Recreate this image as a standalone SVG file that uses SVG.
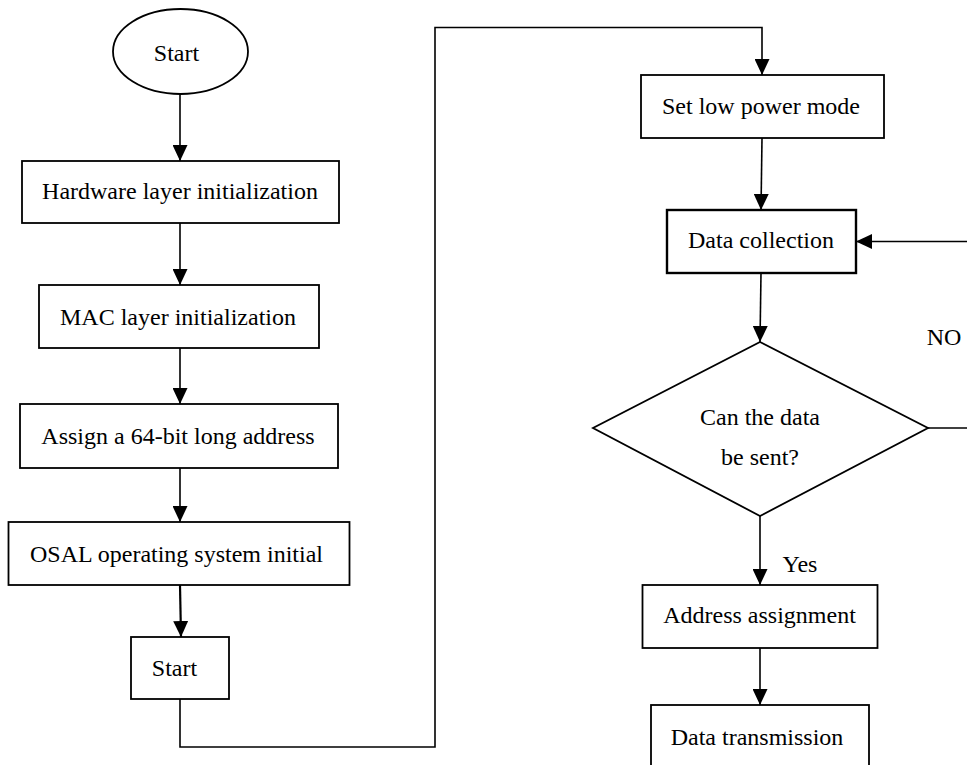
<svg xmlns="http://www.w3.org/2000/svg" width="967" height="765" viewBox="0 0 967 765">
<style>
.box{fill:#fff;stroke:#000;stroke-width:1.8}
.t{font-family:"Liberation Serif","Times New Roman",serif;font-size:24px;fill:#000;text-anchor:middle}
.c{fill:none;stroke:#000;stroke-width:1.6}
.a{marker-end:url(#ah)}
</style>
<defs>
<marker id="ah" markerUnits="userSpaceOnUse" markerWidth="16" markerHeight="15" refX="16" refY="7.5" orient="auto" viewBox="0 0 16 15">
<path d="M0,0 L16,7.5 L0,15 Z" fill="#000"/>
</marker>
</defs>
<rect width="967" height="765" fill="#fff"/>
<g id="connectors">
<line class="c a" x1="180" y1="94" x2="180" y2="161"/>
<line class="c a" x1="180" y1="223" x2="180" y2="285"/>
<line class="c a" x1="180" y1="348" x2="180" y2="404"/>
<line class="c a" x1="180" y1="468" x2="180" y2="522"/>
<line class="c a" x1="180" y1="585" x2="181" y2="637" style="stroke-width:2.2"/>
<polyline class="c a" points="180,699 180,747 435,747 435,27.5 762,27.5 762,75"/>
<line class="c a" x1="762" y1="138" x2="761" y2="210"/>
<line class="c a" x1="761" y1="273" x2="760" y2="342"/>
<line class="c" x1="928" y1="428" x2="967" y2="428"/>
<line class="c a" x1="967" y1="241.5" x2="856" y2="241.5"/>
<line class="c a" x1="760" y1="516" x2="760" y2="585"/>
<line class="c a" x1="760" y1="648" x2="760" y2="705"/>
<text class="t" x="944" y="345">NO</text>
<text class="t" x="800" y="572">Yes</text>
</g>
<g id="start">
<ellipse class="box" cx="180.5" cy="51.5" rx="67.5" ry="42.5"/>
<text class="t" x="176.5" y="61">Start</text>
</g>
<g id="hardware">
<rect class="box" x="22" y="161" width="317" height="62"/>
<text class="t" x="180" y="199">Hardware layer initialization</text>
</g>
<g id="mac">
<rect class="box" x="39" y="285" width="280" height="63"/>
<text class="t" x="178" y="325">MAC layer initialization</text>
</g>
<g id="assign">
<rect class="box" x="20" y="404" width="318" height="64"/>
<text class="t" x="178" y="444">Assign a 64-bit long address</text>
</g>
<g id="osal">
<rect class="box" x="8.5" y="522" width="341" height="63"/>
<text class="t" x="176.5" y="562">OSAL operating system initial</text>
</g>
<g id="start2">
<rect class="box" x="131" y="637" width="98" height="62"/>
<text class="t" x="174.5" y="676">Start</text>
</g>
<g id="lowpower">
<rect class="box" x="641" y="75" width="243" height="63"/>
<text class="t" x="761" y="114">Set low power mode</text>
</g>
<g id="collection">
<rect class="box" x="667" y="210" width="189" height="63" style="stroke-width:2.4"/>
<text class="t" x="761" y="248">Data collection</text>
</g>
<g id="decision">
<polygon class="box" points="760,342 928,428 760,516 593,428"/>
<text class="t" x="760" y="425">Can the data</text>
<text class="t" x="760" y="465">be sent?</text>
</g>
<g id="address">
<rect class="box" x="642.5" y="585" width="235" height="63"/>
<text class="t" x="759.5" y="623">Address assignment</text>
</g>
<g id="transmission">
<rect class="box" x="651" y="705" width="218" height="70"/>
<text class="t" x="757" y="745">Data transmission</text>
</g>
</svg>
